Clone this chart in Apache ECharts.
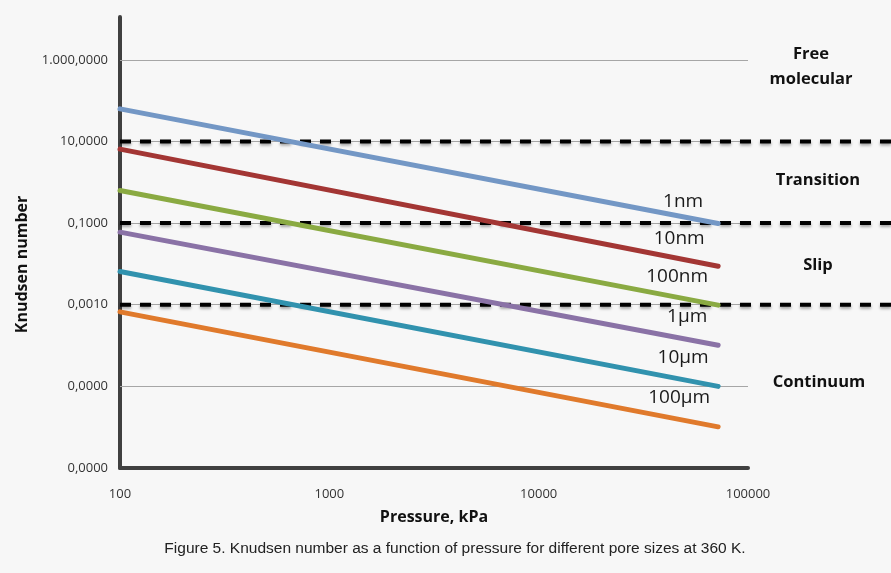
<!DOCTYPE html>
<html>
<head>
<meta charset="utf-8">
<script src="https://cdn.jsdelivr.net/npm/echarts@6/dist/echarts.min.js"></script>
<style>
html,body{margin:0;padding:0;background:#f7f7f7;}
#c{width:891px;height:573px;}
</style>
</head>
<body>
<div id="c"></div>
<script>
// ---------- data ----------
const poreSizes   = ['1nm', '10nm', '100nm', '1µm', '10µm', '100µm'];
const pressureKPa = [100, 72000];
const kn_1nm   = [63,      0.098];
const kn_10nm  = [6.5,     0.0088];
const kn_100nm = [0.63,    0.00098];
const kn_1um   = [0.060,   0.000102];
const kn_10um  = [0.0065,  0.0000100];
const kn_100um = [0.00067, 0.00000102];
const regimeBounds = [10, 0.1, 0.001];
const regimeNames  = ['Free\nmolecular', 'Transition', 'Slip', 'Continuum'];
const yTickValues  = [0.0000001, 0.00001, 0.001, 0.1, 10, 1000];
const yTickLabels  = ['0,0000', '0,0000', '0,0010', '0,1000', '10,0000', '1.000,0000'];
const xTickValues  = [100, 1000, 10000, 100000];
const xTickLabels  = ['100', '1000', '10000', '100000'];
const caption = 'Figure 5. Knudsen number as a function of pressure for different pore sizes at 360 K.';

// ---------- styles ----------
const knSeries = [kn_1nm, kn_10nm, kn_100nm, kn_1um, kn_10um, kn_100um];
const colors = ['#7397c5', '#a33634', '#8aaa42', '#8a72a6', '#3192ae', '#e07a2c'];
const labelOffsets = [[-35, -22], [-39, -28], [-41, -29], [-31, -29], [-35, -29], [-39, -29]];
const regimePos = [[811, 67], [818, 180], [818, 265], [819, 382]];

const L = Math.log10;
const findLabel = (vals, labels, v) => {
  for (let i = 0; i < vals.length; i++) if (Math.abs(L(vals[i]) - v) < 1e-6) return labels[i];
  return '';
};

const chart = echarts.init(document.getElementById('c'), null, {renderer: 'canvas'});

const series = [];
// regime boundaries (dashed), in an overlay grid spanning to the right edge
regimeBounds.forEach((b) => {
  series.push({
    type: 'line', xAxisIndex: 1, yAxisIndex: 1, z: 1.5,
    symbol: 'none', silent: true,
    data: [[0, L(b)], [1, L(b)]],
    lineStyle: {color: '#000', width: 4, type: [11, 9],
      shadowColor: 'rgba(0,0,0,0.35)', shadowBlur: 3, shadowOffsetY: 2}
  });
});
knSeries.forEach((kn, i) => {
  const last = kn.length - 1;
  const s = {
    type: 'line', name: poreSizes[i], xAxisIndex: 0, yAxisIndex: 0, z: 3,
    symbol: 'none', silent: true,
    data: pressureKPa.map((p, j) => [L(p), L(kn[j])]),
    lineStyle: {color: colors[i], width: 5, cap: 'round'},
    markPoint: {
      silent: true, symbol: 'circle', symbolSize: 1,
      itemStyle: {color: 'rgba(0,0,0,0)'},
      label: {show: true, position: 'inside', offset: labelOffsets[i],
        formatter: poreSizes[i], color: '#1a1a1a', fontSize: 19,
        fontFamily: 'Open Sans'},
      data: [{coord: [L(pressureKPa[last]), L(kn[last])]}]
    }
  };
  if (i === 0) {
    s.markLine = {
      silent: true, z: 1, symbol: ['none', 'none'], label: {show: false},
      lineStyle: {color: '#a6a6a6', width: 1, type: 'solid'},
      emphasis: {disabled: true},
      data: yTickValues.slice(1).map(v => ({yAxis: L(v)}))
    };
  }
  series.push(s);
});

const graphics = regimeNames.map((t, i) => ({
  type: 'text', x: regimePos[i][0], y: regimePos[i][1], silent: true,
  style: {text: t, align: 'center', verticalAlign: 'middle',
    fontSize: 16.5, fontWeight: 'bold', fontFamily: 'Open Sans',
    lineHeight: 25, fill: '#111'}
}));
graphics.push({
  type: 'text', x: 455, y: 549, silent: true,
  style: {text: caption, align: 'center', verticalAlign: 'middle',
    fontSize: 15.5, fontFamily: 'Liberation Sans', fill: '#222'}
});

const hiddenAxis = {
  show: false,
  axisLine: {show: false, onZero: false},
  axisTick: {show: false},
  axisLabel: {show: false},
  splitLine: {show: false}
};

chart.setOption({
  backgroundColor: '#f7f7f7',
  animation: false,
  grid: [
    {left: 120, right: 143, top: 17, bottom: 105},
    {left: 120, right: 0, top: 17, bottom: 105}
  ],
  xAxis: [
    {
      type: 'value', gridIndex: 0, min: L(xTickValues[0]), max: L(xTickValues[xTickValues.length - 1]), interval: 1,
      name: 'Pressure, kPa', nameLocation: 'middle', nameGap: 41,
      nameTextStyle: {fontSize: 16, fontWeight: 'bold', fontFamily: 'Open Sans', color: '#111'},
      axisLine: {show: true, onZero: false, lineStyle: {color: '#404040', width: 4}},
      axisTick: {show: false},
      splitLine: {show: false},
      axisLabel: {margin: 20, fontSize: 13, fontFamily: 'Open Sans', color: '#333',
        formatter: v => findLabel(xTickValues, xTickLabels, v)}
    },
    Object.assign({type: 'value', gridIndex: 1, min: 0, max: 1}, hiddenAxis)
  ],
  yAxis: [
    {
      type: 'value', gridIndex: 0, min: -7, max: 4.05, interval: 2,
      name: 'Knudsen number', nameLocation: 'middle', nameGap: 89,
      nameTextStyle: {fontSize: 16, fontWeight: 'bold', fontFamily: 'Open Sans', color: '#111',
        padding: [0, 44, 0, 0]},
      axisLine: {show: true, onZero: false, lineStyle: {color: '#404040', width: 4}},
      axisTick: {show: false},
      splitLine: {show: false},
      axisLabel: {margin: 12, fontSize: 13, fontFamily: 'Open Sans', color: '#333',
        formatter: v => findLabel(yTickValues, yTickLabels, v)}
    },
    Object.assign({type: 'value', gridIndex: 1, min: -7, max: 4.05}, hiddenAxis)
  ],
  series: series,
  graphic: graphics
});
</script>
</body>
</html>
